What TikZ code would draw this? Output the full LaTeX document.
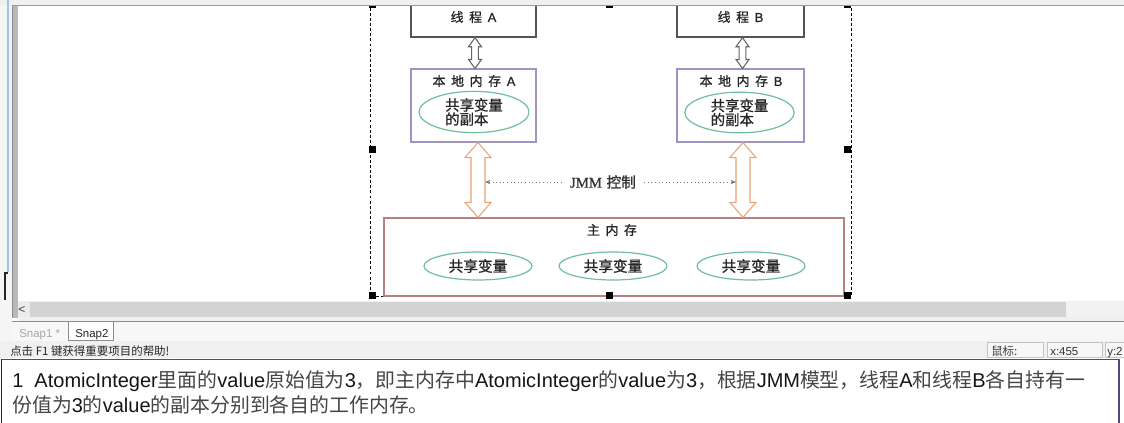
\documentclass[tikz,border=0pt]{standalone}
\usepackage{fontspec}
\setmainfont{Liberation Sans}
\newfontfamily\cjk{Noto Sans CJK SC}
\newfontfamily\cjkd[FakeBold=0.9]{Noto Sans CJK SC}
\newfontfamily\latd[FakeBold=0.9]{Liberation Sans}
\newfontfamily\tms[FakeBold=0.8]{Liberation Serif}
\usetikzlibrary{shapes.geometric,arrows.meta,calc,fit}

\definecolor{thrd}{HTML}{555555}
\definecolor{lavb}{HTML}{A095C0}
\definecolor{ellg}{HTML}{70BE9E}
\definecolor{orng}{HTML}{E8A476}
\definecolor{mainb}{HTML}{B88080}
\definecolor{dotc}{HTML}{7A7A7A}
\definecolor{winbg}{HTML}{F0F0F0}
\definecolor{frameg}{HTML}{B8B8B8}
\definecolor{scrl}{HTML}{D3D3D3}
\definecolor{bluel}{HTML}{9CC4E8}
\definecolor{txtd}{HTML}{151515}
\definecolor{txtc}{HTML}{454545}
\definecolor{boxln}{HTML}{C4C4C4}

\newcommand\lt[1]{{\rmfamily\fontsize{15}{18}\selectfont\color{txtd}#1}}
\newcommand\gp{\hspace{4.2pt}}
\newcommand\hollowarrow[6]{%
  \draw[#1] (#2) -- ($(#2)+(#5,#6)$) -- ($(#2)+(#4,#6)$) -- ($(#3)+(#4,-#6)$)
   -- ($(#3)+(#5,-#6)$) -- (#3) -- ($(#3)+(-#5,-#6)$) -- ($(#3)+(-#4,-#6)$)
   -- ($(#2)+(-#4,#6)$) -- ($(#2)+(-#5,#6)$) -- cycle;}
\newcommand\handle[2]{\fill[black] (#1,#2) ++(-3.5,-3.5) rectangle ++(7,7);}

\begin{document}
\begin{tikzpicture}[x=0.75pt,y=-0.75pt,
  tbox/.style={draw=thrd,line width=1.1pt,inner sep=0pt},
  lbox/.style={draw=lavb,line width=0.8pt,inner sep=0pt},
  mbox/.style={draw=mainb,line width=0.9pt,inner sep=0pt},
  ttext/.style={font=\cjkd\fontsize{9.7}{11}\selectfont,text=black!85,inner sep=0pt},
  ell/.style={ellipse,draw=ellg,line width=0.9pt,fill=white,inner sep=0pt,text=black!85},
  grayarrow/.style={draw=thrd!90,line width=0.8pt,fill=white,line join=miter},
  orarrow/.style={draw=orng,line width=0.8pt,fill=white,line join=miter},
  dotarrow/.style={dotc,dotted,line width=0.7pt,-{Stealth[length=4pt,width=3.2pt]}},
  selbox/.style={black,line width=0.7pt,dash pattern=on 2.2pt off 1.6pt},
  uitext/.style={font=\fontsize{8.6}{10}\selectfont,inner sep=0pt,anchor=base west},
  uicjk/.style={font=\cjk\fontsize{8.6}{10}\selectfont,inner sep=0pt,anchor=base west}]
\useasboundingbox (0,0) rectangle (1124,422);
\fill[white] (0,0) rectangle (1124,422);

% ---------- window chrome ----------
\fill[winbg] (0,0) rectangle (1124,4.5);
\fill[white!96!black] (0,4.5) rectangle (12,358);
\draw[bluel,line width=0.8pt] (8,0) -- (8,272);
\draw[black!85,line width=0.8pt] (8,273) -- (5,273) -- (5,300);
\fill[frameg] (12,5) rectangle (18,318);
\draw[black!45,line width=0.5pt] (12,5) -- (12,318);
\draw[black!40,line width=1pt] (12,5.3) -- (1124,5.3);

% ---------- canvas with diagram ----------
\begin{scope}
\clip (18,6) rectangle (1124,301);
\fill[white] (18,6) rectangle (1124,301);

\draw[selbox] (370,3) -- (370,296) -- (851,296) -- (851,3);

% boxes
\node[tbox,fit={(411,-4) (536,37)}] (ta) {};
\node[tbox,fit={(677,-4) (804,37)}] (tb) {};
\node[lbox,fit={(411,69) (536,142)}] (la) {};
\node[lbox,fit={(677,69) (804,142)}] (lb) {};
\node[mbox,fit={(384,218) (844,296)}] (mm) {};

% box titles
\node[ttext] (tat) at (473.5,17) {线\gp 程\gp{\latd A}};
\node[ttext] (tbt) at (740.5,17) {线\gp 程\gp{\latd B}};
\node[ttext] (lat) at (474,81) {本\gp 地\gp 内\gp 存\gp{\latd A}};
\node[ttext] (lbt) at (741,81) {本\gp 地\gp 内\gp 存\gp{\latd B}};
\node[ttext] (mmt) at (612,230) {主\gp 内\gp 存};

% ellipses
\node[ell,minimum width=82.5pt,minimum height=31pt,align=left,
  font=\cjkd\fontsize{10.8}{10.6}\selectfont] (ea) at (474,112) {共享变量\\的副本};
\node[ell,minimum width=82pt,minimum height=30.5pt,align=left,
  font=\cjkd\fontsize{10.8}{10.6}\selectfont] (eb) at (739.5,112.5) {共享变量\\的副本};
\node[ell,minimum width=81pt,minimum height=21pt,font=\cjkd\fontsize{11}{12}\selectfont] (m1) at (478,266) {共享变量};
\node[ell,minimum width=81pt,minimum height=21pt,font=\cjkd\fontsize{11}{12}\selectfont] (m2) at (613,266) {共享变量};
\node[ell,minimum width=81pt,minimum height=21pt,font=\cjkd\fontsize{11}{12}\selectfont] (m3) at (751,266) {共享变量};

% gray double arrows thread <-> local memory
\coordinate (g1t) at ($(ta.south)+(1.5,0)$);
\coordinate (g2t) at ($(tb.south)+(2,0)$);
\hollowarrow{grayarrow}{g1t}{g1t |- la.north}{3.3}{6.5}{9}
\hollowarrow{grayarrow}{g2t}{g2t |- lb.north}{3.3}{6.5}{9}

% orange double arrows local memory <-> main memory
\coordinate (o1t) at ($(la.south)+(4.5,0)$);
\coordinate (o2t) at ($(lb.south)+(2.5,0)$);
\hollowarrow{orarrow}{o1t}{o1t |- mm.north}{7}{13}{15}
\hollowarrow{orarrow}{o2t}{o2t |- mm.north}{7}{13}{15}

% JMM control
\node[inner sep=0pt,font=\fontsize{11}{12}\selectfont,text=black!80] (jmm) at (603,182) {{\tms JMM}\hspace{3.5pt}{\cjkd 控制}};
\coordinate (ja) at ($(o1t)+(7,0)$);
\coordinate (jb) at ($(o2t)+(-7,0)$);
\draw[dotarrow] ($(jmm.west)+(-8,0)$) -- (jmm.west -| ja);
\draw[dotarrow] ($(jmm.east)+(8,0)$) -- (jmm.east -| jb);

% selection handles
\handle{372.5}{149}
\handle{847}{149}
\handle{372.5}{295.5}
\handle{609.5}{295.5}
\handle{847}{295.5}
\handle{372.5}{4.5}
\handle{609.5}{4.5}
\handle{847}{4.5}
\end{scope}

% ---------- scrollbar ----------
\fill[winbg] (18,301) rectangle (1124,321);
\fill[white!92!black] (18,302) rectangle (30,317);
\node[inner sep=0pt,font=\fontsize{9}{10}\selectfont,text=black!75] (lt) at (22,310) {<};
\fill[scrl] (30,302) rectangle (1066,317);
\fill[white!95!black] (1066,302) rectangle (1124,317);
\draw[black!45,line width=0.8pt] (12,321.5) -- (1124,321.5);

% ---------- tabs ----------
\fill[white!97!black] (12,322) rectangle (1124,340.5);
\fill[white] (68,322) rectangle (113,340.5);
\draw[black!45,line width=0.5pt] (68,322) -- (68,340.5) -- (113,340.5) -- (113,322);
\node[uitext,text=black!35] (s1) at (19,337) {Snap1 *};
\node[uitext,text=black!85] (s2) at (75,337) {Snap2};

% ---------- status bar ----------
\fill[winbg] (0,341) rectangle (1124,358);
\node[uicjk,text=black!85] (st) at (10,355.5) {点击 F1 键获得重要项目的帮助!};
\draw[boxln,line width=0.6pt,fill=white!97!black] (987,342) rectangle (1043,357.5);
\draw[boxln,line width=0.6pt,fill=white!97!black] (1047,342) rectangle (1102,357.5);
\draw[boxln,line width=0.6pt,fill=white!97!black] (1105,342) rectangle (1130,357.5);
\node[uicjk,text=black!75] (mouse) at (991,355) {鼠标:};
\node[uitext,text=black!80] (xpos) at (1050,355) {x:455};
\node[uitext,text=black!80] (ypos) at (1107,355) {y:2};

% ---------- text area ----------
\begin{scope}
\clip (0,358) rectangle (1124,422);
\fill[white] (0,359) rectangle (1124,422);
\draw[black!55!blue!40!gray,line width=0.8pt] (1.5,359.5) -- (1119,359.5) -- (1119,425);
\draw[black!85,line width=0.9pt] (1.5,359) -- (1.5,425);
\end{scope}
\node[inner sep=0pt,anchor=base west,font=\cjk\fontsize{14.9}{17}\selectfont,text=txtc] (t1) at (12,387)
 {\lt{1\ \ AtomicInteger}里面的\lt{value}原始值为\lt{3}，即主内存中\lt{AtomicInteger}的\lt{value}为\lt{3}，根据\lt{JMM}模型，线程\lt{A}和线程\lt{B}各自持有一};
\node[inner sep=0pt,anchor=base west,font=\cjk\fontsize{14.9}{17}\selectfont,text=txtc] (t2) at (12,412)
 {份值为\lt{3}的\lt{value}的副本分别到各自的工作内存。};
\end{tikzpicture}
\end{document}
